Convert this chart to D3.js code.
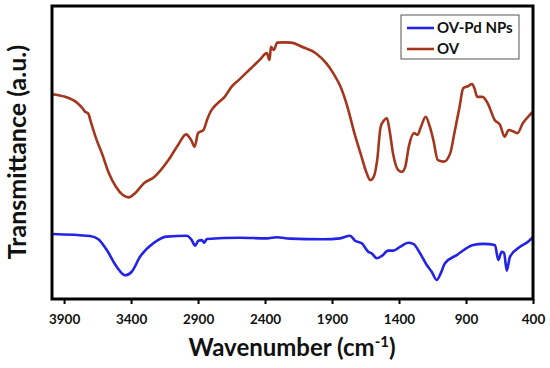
<!DOCTYPE html>
<html><head><meta charset="utf-8">
<script src="https://cdn.jsdelivr.net/npm/d3@7"></script>
<style>body{margin:0;background:#fff}svg{display:block}</style>
</head><body><svg id="c" width="550" height="368"></svg>
<script>
const tickValues = [3900, 3400, 2900, 2400, 1900, 1400, 900, 400];
const seriesNames = ["OV-Pd NPs", "OV"];
const ovWavenumber = [3990,3892,3803,3762,3743,3721,3698,3657,3618,3566,3513,3461,3416,3370,3304,3225,3121,3042,2990,2952,2925,2900,2859,2833,2807,2754,2701,2649,2597,2545,2492,2440,2387,2366,2356,2335,2309,2257,2204,2125,2021,1942,1890,1837,1785,1733,1680,1641,1615,1589,1563,1537,1510,1490,1471,1445,1406,1379,1353,1327,1288,1262,1236,1201,1170,1144,1110,1065,1018,987,948,921,882,855,837,816,777,738,686,646,612,581,542,516,476,424,400];
const ovT = [69.9,69.0,67.0,65.1,63.9,63.4,60.1,54.3,49.8,43.0,38.3,35.5,34.7,36.1,39.5,41.7,47.4,53.1,56.2,54.3,52.0,56.6,57.7,61.1,63.9,66.8,69.0,72.5,74.7,77.0,79.3,81.6,83.9,81.6,86.1,85.0,87.5,87.6,87.5,86.1,83.9,80.4,77.0,72.5,65.6,56.6,48.6,42.9,40.6,41.7,47.4,58.8,61.1,61.7,57.7,49.7,44.0,43.4,45.2,52.0,56.6,56.0,58.8,62.2,58.8,54.3,47.4,46.9,49.7,56.6,65.6,71.9,72.7,73.4,71.9,69.0,69.0,66.8,61.1,59.4,55.4,57.7,57.1,56.6,60.0,62.8,63.9];
const pdWavenumber = [3992,3706,3644,3581,3507,3445,3395,3333,3234,3134,2984,2947,2922,2898,2872,2853,2835,2587,2387,2313,2213,1965,1840,1766,1728,1678,1629,1604,1566,1529,1480,1443,1393,1331,1293,1243,1193,1156,1119,1094,1057,969,846,771,684,659,634,616,596,572,497,435,402];
const pdT = [22.2,21.5,20.4,16.7,11.0,8.1,9.3,14.4,19.0,21.3,21.6,20.1,18.2,19.9,20.1,19.2,20.5,20.9,20.7,21.1,20.6,20.4,20.7,21.6,19.9,19.0,16.1,15.6,13.9,14.7,16.5,16.5,17.8,19.2,18.8,15.6,11.6,9.3,6.5,8.2,12.2,15.0,18.4,18.8,18.4,13.3,16.1,15.8,9.7,14.4,17.8,19.6,21.1];
const colors = ["#2323e6", "#a3361c"];

const svg = d3.select("#c");
const L = 52, R = 533, T = 6, B = 299;
const x = d3.scaleLinear().domain([3990, 400]).range([L, R]);
const y = d3.scaleLinear().domain([0, 100]).range([B, T]);
const font = "Lato, 'Open Sans', sans-serif";

const line = d3.line().x(d => x(d[0])).y(d => y(d[1])).curve(d3.curveMonotoneX);
const ovData = ovWavenumber.map((w, i) => [w, ovT[i]]);
const pdData = pdWavenumber.map((w, i) => [w, pdT[i]]);

const g = svg.append("g");
g.append("path").datum(pdData).attr("d", line).attr("fill", "none")
  .attr("stroke", colors[0]).attr("stroke-width", 2.6).attr("stroke-linejoin", "round");
g.append("path").datum(ovData).attr("d", line).attr("fill", "none")
  .attr("stroke", colors[1]).attr("stroke-width", 2.6).attr("stroke-linejoin", "round");

// frame
svg.append("rect").attr("x", L).attr("y", T).attr("width", R - L).attr("height", B - T)
  .attr("fill", "none").attr("stroke", "#000").attr("stroke-width", 3);

// x axis
const ax = svg.append("g").attr("transform", `translate(0,${B})`)
  .call(d3.axisBottom(x).tickValues(tickValues).tickSize(5).tickSizeOuter(0).tickPadding(10).tickFormat(d3.format("d")));
ax.select(".domain").remove();
ax.selectAll("line").attr("stroke", "#000").attr("stroke-width", 2);
ax.selectAll("text").attr("font-family", font).attr("font-weight", "bold").attr("font-size", 13.5).attr("fill", "#111");

// axis titles
const xt = svg.append("text").attr("x", 292).attr("y", 356).attr("text-anchor", "middle")
  .attr("font-family", font).attr("font-weight", "bold").attr("font-size", 24).attr("fill", "#111");
xt.append("tspan").text("Wavenumber (cm");
xt.append("tspan").attr("dy", -9).attr("font-size", 15).text("-1");
xt.append("tspan").attr("dy", 9).text(")");

svg.append("text").attr("transform", "translate(26,152) rotate(-90)").attr("text-anchor", "middle")
  .attr("font-family", font).attr("font-weight", "bold").attr("font-size", 25).attr("fill", "#111")
  .text("Transmittance (a.u.)");

// legend
const lg = svg.append("g");
lg.append("rect").attr("x", 401).attr("y", 15).attr("width", 118).attr("height", 44)
  .attr("fill", "#fff").attr("stroke", "#555").attr("stroke-width", 1);
seriesNames.forEach((n, i) => {
  const yy = 28 + i * 21;
  lg.append("line").attr("x1", 407).attr("x2", 434).attr("y1", yy).attr("y2", yy)
    .attr("stroke", colors[i]).attr("stroke-width", 2.6);
  lg.append("text").attr("x", 437).attr("y", yy + 5).attr("font-family", font)
    .attr("font-weight", "bold").attr("font-size", 15).attr("fill", "#111").text(n);
});
</script></body></html>
